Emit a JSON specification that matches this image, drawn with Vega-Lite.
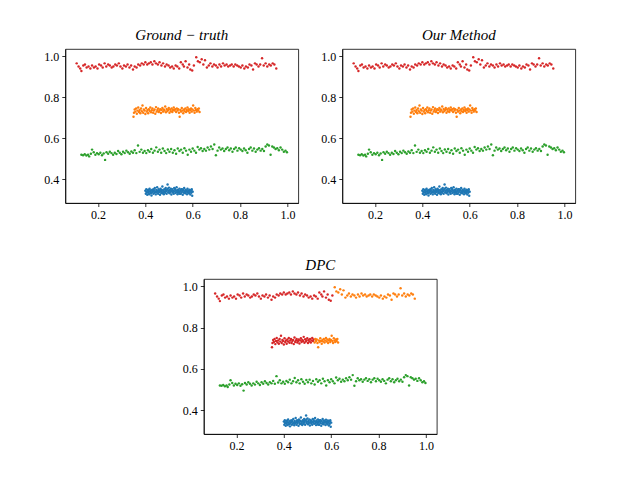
{
"$schema": "https://vega.github.io/schema/vega-lite/v6.json",
"padding": {"left": 43, "top": 27, "right": 5, "bottom": 5},
"background": "white",
"config": {
  "view": {"stroke": "black", "strokeWidth": 0.8},
  "axis": {"grid": false, "domainColor": "black", "domainWidth": 0.8, "tickColor": "black", "tickWidth": 0.8, "tickSize": 3.5, "labelColor": "black", "labelFont": "Liberation Serif", "labelFontSize": 12, "labelPadding": 3, "title": null},
  "title": {"font": "Liberation Serif", "fontStyle": "italic", "fontWeight": "normal", "fontSize": 15, "color": "black", "offset": 6}
},
"datasets": {"pts": [
{"x":0.110,"y":0.965,"c":"r","d":"r"},{"x":0.118,"y":0.950,"c":"r","d":"r"},{"x":0.125,"y":0.940,"c":"r","d":"r"},{"x":0.130,"y":0.928,"c":"r","d":"r"},{"x":0.138,"y":0.955,"c":"r","d":"r"},{"x":0.145,"y":0.960,"c":"r","d":"r"},{"x":0.152,"y":0.945,"c":"r","d":"r"},{"x":0.160,"y":0.950,"c":"r","d":"r"},{"x":0.168,"y":0.940,"c":"r","d":"r"},{"x":0.175,"y":0.955,"c":"r","d":"r"},{"x":0.183,"y":0.945,"c":"r","d":"r"},{"x":0.190,"y":0.950,"c":"r","d":"r"},{"x":0.198,"y":0.940,"c":"r","d":"r"},{"x":0.205,"y":0.960,"c":"r","d":"r"},{"x":0.213,"y":0.955,"c":"r","d":"r"},{"x":0.220,"y":0.945,"c":"r","d":"r"},{"x":0.228,"y":0.965,"c":"r","d":"r"},{"x":0.235,"y":0.950,"c":"r","d":"r"},{"x":0.243,"y":0.960,"c":"r","d":"r"},{"x":0.250,"y":0.955,"c":"r","d":"r"},{"x":0.258,"y":0.945,"c":"r","d":"r"},{"x":0.265,"y":0.950,"c":"r","d":"r"},{"x":0.273,"y":0.960,"c":"r","d":"r"},{"x":0.280,"y":0.955,"c":"r","d":"r"},{"x":0.288,"y":0.965,"c":"r","d":"r"},{"x":0.295,"y":0.950,"c":"r","d":"r"},{"x":0.303,"y":0.940,"c":"r","d":"r"},{"x":0.310,"y":0.955,"c":"r","d":"r"},{"x":0.318,"y":0.950,"c":"r","d":"r"},{"x":0.325,"y":0.960,"c":"r","d":"r"},{"x":0.333,"y":0.945,"c":"r","d":"r"},{"x":0.340,"y":0.955,"c":"r","d":"r"},{"x":0.348,"y":0.935,"c":"r","d":"r"},{"x":0.355,"y":0.950,"c":"r","d":"r"},{"x":0.363,"y":0.945,"c":"r","d":"r"},{"x":0.370,"y":0.960,"c":"r","d":"r"},{"x":0.378,"y":0.955,"c":"r","d":"r"},{"x":0.385,"y":0.965,"c":"r","d":"r"},{"x":0.393,"y":0.960,"c":"r","d":"r"},{"x":0.400,"y":0.970,"c":"r","d":"r"},{"x":0.408,"y":0.960,"c":"r","d":"r"},{"x":0.415,"y":0.965,"c":"r","d":"r"},{"x":0.423,"y":0.970,"c":"r","d":"r"},{"x":0.430,"y":0.960,"c":"r","d":"r"},{"x":0.438,"y":0.975,"c":"r","d":"r"},{"x":0.445,"y":0.965,"c":"r","d":"r"},{"x":0.453,"y":0.960,"c":"r","d":"r"},{"x":0.460,"y":0.970,"c":"r","d":"r"},{"x":0.468,"y":0.955,"c":"r","d":"r"},{"x":0.475,"y":0.965,"c":"r","d":"r"},{"x":0.483,"y":0.950,"c":"r","d":"r"},{"x":0.490,"y":0.960,"c":"r","d":"r"},{"x":0.498,"y":0.955,"c":"r","d":"r"},{"x":0.505,"y":0.945,"c":"r","d":"r"},{"x":0.513,"y":0.950,"c":"r","d":"r"},{"x":0.520,"y":0.940,"c":"r","d":"r"},{"x":0.528,"y":0.955,"c":"r","d":"r"},{"x":0.535,"y":0.950,"c":"r","d":"r"},{"x":0.543,"y":0.940,"c":"r","d":"r"},{"x":0.550,"y":0.970,"c":"r","d":"r"},{"x":0.558,"y":0.960,"c":"r","d":"r"},{"x":0.563,"y":0.950,"c":"r","d":"r"},{"x":0.570,"y":0.975,"c":"r","d":"r"},{"x":0.578,"y":0.945,"c":"r","d":"r"},{"x":0.585,"y":0.960,"c":"r","d":"r"},{"x":0.590,"y":0.935,"c":"r","d":"r"},{"x":0.598,"y":0.930,"c":"r","d":"r"},{"x":0.605,"y":0.955,"c":"r","d":"r"},
{"x":0.615,"y":0.995,"c":"r","d":"o"},{"x":0.622,"y":0.975,"c":"r","d":"o"},{"x":0.630,"y":0.970,"c":"r","d":"o"},{"x":0.638,"y":0.985,"c":"r","d":"o"},{"x":0.645,"y":0.960,"c":"r","d":"o"},{"x":0.652,"y":0.980,"c":"r","d":"o"},{"x":0.660,"y":0.945,"c":"r","d":"o"},{"x":0.668,"y":0.955,"c":"r","d":"o"},{"x":0.675,"y":0.965,"c":"r","d":"o"},{"x":0.683,"y":0.950,"c":"r","d":"o"},{"x":0.690,"y":0.960,"c":"r","d":"o"},{"x":0.698,"y":0.955,"c":"r","d":"o"},{"x":0.705,"y":0.945,"c":"r","d":"o"},{"x":0.713,"y":0.960,"c":"r","d":"o"},{"x":0.720,"y":0.950,"c":"r","d":"o"},{"x":0.728,"y":0.965,"c":"r","d":"o"},{"x":0.735,"y":0.955,"c":"r","d":"o"},{"x":0.743,"y":0.960,"c":"r","d":"o"},{"x":0.750,"y":0.950,"c":"r","d":"o"},{"x":0.758,"y":0.955,"c":"r","d":"o"},{"x":0.765,"y":0.960,"c":"r","d":"o"},{"x":0.773,"y":0.950,"c":"r","d":"o"},{"x":0.780,"y":0.960,"c":"r","d":"o"},{"x":0.788,"y":0.955,"c":"r","d":"o"},{"x":0.795,"y":0.950,"c":"r","d":"o"},{"x":0.803,"y":0.945,"c":"r","d":"o"},{"x":0.810,"y":0.955,"c":"r","d":"o"},{"x":0.818,"y":0.940,"c":"r","d":"o"},{"x":0.825,"y":0.950,"c":"r","d":"o"},{"x":0.833,"y":0.945,"c":"r","d":"o"},{"x":0.840,"y":0.960,"c":"r","d":"o"},{"x":0.848,"y":0.955,"c":"r","d":"o"},{"x":0.855,"y":0.935,"c":"r","d":"o"},{"x":0.863,"y":0.965,"c":"r","d":"o"},{"x":0.870,"y":0.960,"c":"r","d":"o"},{"x":0.878,"y":0.950,"c":"r","d":"o"},{"x":0.885,"y":0.960,"c":"r","d":"o"},{"x":0.893,"y":0.990,"c":"r","d":"o"},{"x":0.900,"y":0.955,"c":"r","d":"o"},{"x":0.908,"y":0.965,"c":"r","d":"o"},{"x":0.915,"y":0.950,"c":"r","d":"o"},{"x":0.923,"y":0.960,"c":"r","d":"o"},{"x":0.930,"y":0.955,"c":"r","d":"o"},{"x":0.938,"y":0.965,"c":"r","d":"o"},{"x":0.945,"y":0.960,"c":"r","d":"o"},{"x":0.953,"y":0.940,"c":"r","d":"o"},
{"x":0.350,"y":0.705,"c":"o","d":"r"},{"x":0.352,"y":0.725,"c":"o","d":"r"},{"x":0.355,"y":0.740,"c":"o","d":"r"},{"x":0.358,"y":0.730,"c":"o","d":"r"},{"x":0.361,"y":0.745,"c":"o","d":"r"},{"x":0.364,"y":0.720,"c":"o","d":"r"},{"x":0.367,"y":0.735,"c":"o","d":"r"},{"x":0.370,"y":0.750,"c":"o","d":"r"},{"x":0.373,"y":0.728,"c":"o","d":"r"},{"x":0.376,"y":0.738,"c":"o","d":"r"},{"x":0.379,"y":0.722,"c":"o","d":"r"},{"x":0.382,"y":0.745,"c":"o","d":"r"},{"x":0.385,"y":0.732,"c":"o","d":"r"},{"x":0.388,"y":0.760,"c":"o","d":"r"},{"x":0.391,"y":0.725,"c":"o","d":"r"},{"x":0.394,"y":0.740,"c":"o","d":"r"},{"x":0.397,"y":0.735,"c":"o","d":"r"},{"x":0.400,"y":0.718,"c":"o","d":"r"},{"x":0.403,"y":0.748,"c":"o","d":"r"},{"x":0.406,"y":0.730,"c":"o","d":"r"},{"x":0.409,"y":0.738,"c":"o","d":"r"},{"x":0.412,"y":0.722,"c":"o","d":"r"},{"x":0.415,"y":0.742,"c":"o","d":"r"},{"x":0.418,"y":0.733,"c":"o","d":"r"},{"x":0.421,"y":0.750,"c":"o","d":"r"},{"x":0.424,"y":0.727,"c":"o","d":"r"},{"x":0.427,"y":0.737,"c":"o","d":"r"},{"x":0.430,"y":0.745,"c":"o","d":"r"},{"x":0.433,"y":0.725,"c":"o","d":"r"},{"x":0.436,"y":0.735,"c":"o","d":"r"},{"x":0.439,"y":0.740,"c":"o","d":"r"},{"x":0.442,"y":0.720,"c":"o","d":"r"},{"x":0.445,"y":0.752,"c":"o","d":"r"},{"x":0.448,"y":0.730,"c":"o","d":"r"},{"x":0.451,"y":0.738,"c":"o","d":"r"},{"x":0.454,"y":0.745,"c":"o","d":"r"},{"x":0.457,"y":0.728,"c":"o","d":"r"},{"x":0.460,"y":0.735,"c":"o","d":"r"},{"x":0.463,"y":0.742,"c":"o","d":"r"},{"x":0.466,"y":0.723,"c":"o","d":"r"},{"x":0.469,"y":0.738,"c":"o","d":"r"},{"x":0.472,"y":0.748,"c":"o","d":"r"},{"x":0.475,"y":0.730,"c":"o","d":"r"},{"x":0.478,"y":0.740,"c":"o","d":"r"},{"x":0.481,"y":0.735,"c":"o","d":"r"},{"x":0.484,"y":0.755,"c":"o","d":"r"},{"x":0.487,"y":0.727,"c":"o","d":"r"},{"x":0.490,"y":0.743,"c":"o","d":"r"},{"x":0.493,"y":0.733,"c":"o","d":"r"},{"x":0.496,"y":0.738,"c":"o","d":"r"},{"x":0.499,"y":0.748,"c":"o","d":"r"},{"x":0.502,"y":0.725,"c":"o","d":"r"},{"x":0.505,"y":0.740,"c":"o","d":"r"},{"x":0.508,"y":0.732,"c":"o","d":"r"},{"x":0.511,"y":0.745,"c":"o","d":"r"},{"x":0.514,"y":0.728,"c":"o","d":"r"},{"x":0.517,"y":0.738,"c":"o","d":"r"},{"x":0.520,"y":0.750,"c":"o","d":"r"},{"x":0.523,"y":0.735,"c":"o","d":"r"},{"x":0.526,"y":0.742,"c":"o","d":"r"},
{"x":0.530,"y":0.728,"c":"o","d":"o"},{"x":0.533,"y":0.745,"c":"o","d":"o"},{"x":0.536,"y":0.735,"c":"o","d":"o"},{"x":0.539,"y":0.742,"c":"o","d":"o"},{"x":0.542,"y":0.725,"c":"o","d":"o"},{"x":0.545,"y":0.705,"c":"o","d":"o"},{"x":0.548,"y":0.738,"c":"o","d":"o"},{"x":0.551,"y":0.730,"c":"o","d":"o"},{"x":0.554,"y":0.748,"c":"o","d":"o"},{"x":0.557,"y":0.735,"c":"o","d":"o"},{"x":0.560,"y":0.722,"c":"o","d":"o"},{"x":0.563,"y":0.740,"c":"o","d":"o"},{"x":0.566,"y":0.732,"c":"o","d":"o"},{"x":0.569,"y":0.745,"c":"o","d":"o"},{"x":0.572,"y":0.728,"c":"o","d":"o"},{"x":0.575,"y":0.738,"c":"o","d":"o"},{"x":0.578,"y":0.750,"c":"o","d":"o"},{"x":0.581,"y":0.733,"c":"o","d":"o"},{"x":0.584,"y":0.742,"c":"o","d":"o"},{"x":0.587,"y":0.725,"c":"o","d":"o"},{"x":0.590,"y":0.737,"c":"o","d":"o"},{"x":0.593,"y":0.745,"c":"o","d":"o"},{"x":0.596,"y":0.730,"c":"o","d":"o"},{"x":0.599,"y":0.740,"c":"o","d":"o"},{"x":0.602,"y":0.760,"c":"o","d":"o"},{"x":0.605,"y":0.735,"c":"o","d":"o"},{"x":0.608,"y":0.725,"c":"o","d":"o"},{"x":0.611,"y":0.748,"c":"o","d":"o"},{"x":0.614,"y":0.738,"c":"o","d":"o"},{"x":0.617,"y":0.730,"c":"o","d":"o"},{"x":0.620,"y":0.742,"c":"o","d":"o"},{"x":0.623,"y":0.735,"c":"o","d":"o"},{"x":0.626,"y":0.745,"c":"o","d":"o"},{"x":0.629,"y":0.728,"c":"o","d":"o"},
{"x":0.130,"y":0.520,"c":"g","d":"g"},{"x":0.137,"y":0.518,"c":"g","d":"g"},{"x":0.144,"y":0.522,"c":"g","d":"g"},{"x":0.151,"y":0.516,"c":"g","d":"g"},{"x":0.158,"y":0.520,"c":"g","d":"g"},{"x":0.163,"y":0.512,"c":"g","d":"g"},{"x":0.170,"y":0.525,"c":"g","d":"g"},{"x":0.175,"y":0.545,"c":"g","d":"g"},{"x":0.182,"y":0.532,"c":"g","d":"g"},{"x":0.189,"y":0.520,"c":"g","d":"g"},{"x":0.196,"y":0.528,"c":"g","d":"g"},{"x":0.203,"y":0.522,"c":"g","d":"g"},{"x":0.210,"y":0.530,"c":"g","d":"g"},{"x":0.217,"y":0.518,"c":"g","d":"g"},{"x":0.224,"y":0.526,"c":"g","d":"g"},{"x":0.230,"y":0.495,"c":"g","d":"g"},{"x":0.236,"y":0.532,"c":"g","d":"g"},{"x":0.243,"y":0.525,"c":"g","d":"g"},{"x":0.250,"y":0.535,"c":"g","d":"g"},{"x":0.257,"y":0.528,"c":"g","d":"g"},{"x":0.264,"y":0.520,"c":"g","d":"g"},{"x":0.271,"y":0.530,"c":"g","d":"g"},{"x":0.278,"y":0.524,"c":"g","d":"g"},{"x":0.285,"y":0.538,"c":"g","d":"g"},{"x":0.292,"y":0.530,"c":"g","d":"g"},{"x":0.299,"y":0.522,"c":"g","d":"g"},{"x":0.306,"y":0.535,"c":"g","d":"g"},{"x":0.313,"y":0.528,"c":"g","d":"g"},{"x":0.320,"y":0.540,"c":"g","d":"g"},{"x":0.327,"y":0.532,"c":"g","d":"g"},{"x":0.334,"y":0.525,"c":"g","d":"g"},{"x":0.341,"y":0.536,"c":"g","d":"g"},{"x":0.348,"y":0.530,"c":"g","d":"g"},{"x":0.355,"y":0.542,"c":"g","d":"g"},{"x":0.362,"y":0.528,"c":"g","d":"g"},{"x":0.369,"y":0.565,"c":"g","d":"g"},{"x":0.376,"y":0.534,"c":"g","d":"g"},{"x":0.383,"y":0.545,"c":"g","d":"g"},{"x":0.390,"y":0.530,"c":"g","d":"g"},{"x":0.397,"y":0.538,"c":"g","d":"g"},{"x":0.404,"y":0.528,"c":"g","d":"g"},{"x":0.411,"y":0.542,"c":"g","d":"g"},{"x":0.418,"y":0.535,"c":"g","d":"g"},{"x":0.425,"y":0.548,"c":"g","d":"g"},{"x":0.432,"y":0.530,"c":"g","d":"g"},{"x":0.439,"y":0.540,"c":"g","d":"g"},{"x":0.446,"y":0.556,"c":"g","d":"g"},{"x":0.453,"y":0.535,"c":"g","d":"g"},{"x":0.460,"y":0.545,"c":"g","d":"g"},{"x":0.467,"y":0.530,"c":"g","d":"g"},{"x":0.474,"y":0.550,"c":"g","d":"g"},{"x":0.481,"y":0.538,"c":"g","d":"g"},{"x":0.488,"y":0.528,"c":"g","d":"g"},{"x":0.495,"y":0.546,"c":"g","d":"g"},{"x":0.502,"y":0.535,"c":"g","d":"g"},{"x":0.509,"y":0.548,"c":"g","d":"g"},{"x":0.516,"y":0.530,"c":"g","d":"g"},{"x":0.523,"y":0.542,"c":"g","d":"g"},{"x":0.530,"y":0.525,"c":"g","d":"g"},{"x":0.537,"y":0.550,"c":"g","d":"g"},{"x":0.544,"y":0.538,"c":"g","d":"g"},{"x":0.551,"y":0.545,"c":"g","d":"g"},{"x":0.558,"y":0.530,"c":"g","d":"g"},{"x":0.565,"y":0.552,"c":"g","d":"g"},{"x":0.572,"y":0.540,"c":"g","d":"g"},{"x":0.579,"y":0.520,"c":"g","d":"g"},{"x":0.586,"y":0.545,"c":"g","d":"g"},{"x":0.593,"y":0.535,"c":"g","d":"g"},{"x":0.600,"y":0.550,"c":"g","d":"g"},{"x":0.607,"y":0.540,"c":"g","d":"g"},{"x":0.614,"y":0.530,"c":"g","d":"g"},{"x":0.621,"y":0.558,"c":"g","d":"g"},{"x":0.628,"y":0.545,"c":"g","d":"g"},{"x":0.635,"y":0.552,"c":"g","d":"g"},{"x":0.642,"y":0.538,"c":"g","d":"g"},{"x":0.649,"y":0.548,"c":"g","d":"g"},{"x":0.656,"y":0.540,"c":"g","d":"g"},{"x":0.663,"y":0.555,"c":"g","d":"g"},{"x":0.670,"y":0.545,"c":"g","d":"g"},{"x":0.677,"y":0.560,"c":"g","d":"g"},{"x":0.684,"y":0.548,"c":"g","d":"g"},{"x":0.691,"y":0.570,"c":"g","d":"g"},{"x":0.698,"y":0.518,"c":"g","d":"g"},{"x":0.705,"y":0.540,"c":"g","d":"g"},{"x":0.712,"y":0.555,"c":"g","d":"g"},{"x":0.719,"y":0.545,"c":"g","d":"g"},{"x":0.726,"y":0.550,"c":"g","d":"g"},{"x":0.733,"y":0.538,"c":"g","d":"g"},{"x":0.740,"y":0.548,"c":"g","d":"g"},{"x":0.747,"y":0.555,"c":"g","d":"g"},{"x":0.754,"y":0.542,"c":"g","d":"g"},{"x":0.761,"y":0.550,"c":"g","d":"g"},{"x":0.768,"y":0.535,"c":"g","d":"g"},{"x":0.775,"y":0.548,"c":"g","d":"g"},{"x":0.782,"y":0.555,"c":"g","d":"g"},{"x":0.789,"y":0.540,"c":"g","d":"g"},{"x":0.796,"y":0.552,"c":"g","d":"g"},{"x":0.803,"y":0.545,"c":"g","d":"g"},{"x":0.810,"y":0.538,"c":"g","d":"g"},{"x":0.817,"y":0.550,"c":"g","d":"g"},{"x":0.824,"y":0.542,"c":"g","d":"g"},{"x":0.831,"y":0.530,"c":"g","d":"g"},{"x":0.838,"y":0.548,"c":"g","d":"g"},{"x":0.845,"y":0.555,"c":"g","d":"g"},{"x":0.852,"y":0.540,"c":"g","d":"g"},{"x":0.859,"y":0.550,"c":"g","d":"g"},{"x":0.866,"y":0.535,"c":"g","d":"g"},{"x":0.873,"y":0.545,"c":"g","d":"g"},{"x":0.880,"y":0.552,"c":"g","d":"g"},{"x":0.887,"y":0.540,"c":"g","d":"g"},{"x":0.894,"y":0.548,"c":"g","d":"g"},{"x":0.901,"y":0.538,"c":"g","d":"g"},{"x":0.908,"y":0.560,"c":"g","d":"g"},{"x":0.915,"y":0.570,"c":"g","d":"g"},{"x":0.922,"y":0.565,"c":"g","d":"g"},{"x":0.929,"y":0.520,"c":"g","d":"g"},{"x":0.936,"y":0.560,"c":"g","d":"g"},{"x":0.943,"y":0.555,"c":"g","d":"g"},{"x":0.950,"y":0.548,"c":"g","d":"g"},{"x":0.957,"y":0.552,"c":"g","d":"g"},{"x":0.964,"y":0.542,"c":"g","d":"g"},{"x":0.971,"y":0.555,"c":"g","d":"g"},{"x":0.978,"y":0.545,"c":"g","d":"g"},{"x":0.985,"y":0.535,"c":"g","d":"g"},{"x":0.992,"y":0.540,"c":"g","d":"g"},{"x":0.998,"y":0.532,"c":"g","d":"g"},
{"x":0.400,"y":0.345,"c":"b","d":"b"},{"x":0.402,"y":0.330,"c":"b","d":"b"},{"x":0.404,"y":0.352,"c":"b","d":"b"},{"x":0.406,"y":0.338,"c":"b","d":"b"},{"x":0.408,"y":0.325,"c":"b","d":"b"},{"x":0.410,"y":0.348,"c":"b","d":"b"},{"x":0.412,"y":0.335,"c":"b","d":"b"},{"x":0.414,"y":0.342,"c":"b","d":"b"},{"x":0.416,"y":0.328,"c":"b","d":"b"},{"x":0.418,"y":0.355,"c":"b","d":"b"},{"x":0.420,"y":0.340,"c":"b","d":"b"},{"x":0.422,"y":0.332,"c":"b","d":"b"},{"x":0.424,"y":0.347,"c":"b","d":"b"},{"x":0.426,"y":0.322,"c":"b","d":"b"},{"x":0.428,"y":0.338,"c":"b","d":"b"},{"x":0.430,"y":0.350,"c":"b","d":"b"},{"x":0.432,"y":0.343,"c":"b","d":"b"},{"x":0.434,"y":0.330,"c":"b","d":"b"},{"x":0.436,"y":0.345,"c":"b","d":"b"},{"x":0.438,"y":0.335,"c":"b","d":"b"},{"x":0.440,"y":0.358,"c":"b","d":"b"},{"x":0.442,"y":0.340,"c":"b","d":"b"},{"x":0.444,"y":0.327,"c":"b","d":"b"},{"x":0.446,"y":0.348,"c":"b","d":"b"},{"x":0.448,"y":0.336,"c":"b","d":"b"},{"x":0.450,"y":0.362,"c":"b","d":"b"},{"x":0.452,"y":0.342,"c":"b","d":"b"},{"x":0.454,"y":0.330,"c":"b","d":"b"},{"x":0.456,"y":0.352,"c":"b","d":"b"},{"x":0.458,"y":0.338,"c":"b","d":"b"},{"x":0.460,"y":0.345,"c":"b","d":"b"},{"x":0.462,"y":0.325,"c":"b","d":"b"},{"x":0.464,"y":0.355,"c":"b","d":"b"},{"x":0.466,"y":0.340,"c":"b","d":"b"},{"x":0.468,"y":0.333,"c":"b","d":"b"},{"x":0.470,"y":0.348,"c":"b","d":"b"},{"x":0.472,"y":0.365,"c":"b","d":"b"},{"x":0.474,"y":0.337,"c":"b","d":"b"},{"x":0.476,"y":0.345,"c":"b","d":"b"},{"x":0.478,"y":0.328,"c":"b","d":"b"},{"x":0.480,"y":0.352,"c":"b","d":"b"},{"x":0.482,"y":0.340,"c":"b","d":"b"},{"x":0.484,"y":0.335,"c":"b","d":"b"},{"x":0.486,"y":0.358,"c":"b","d":"b"},{"x":0.488,"y":0.343,"c":"b","d":"b"},{"x":0.490,"y":0.330,"c":"b","d":"b"},{"x":0.492,"y":0.350,"c":"b","d":"b"},{"x":0.494,"y":0.375,"c":"b","d":"b"},{"x":0.496,"y":0.338,"c":"b","d":"b"},{"x":0.498,"y":0.345,"c":"b","d":"b"},{"x":0.500,"y":0.360,"c":"b","d":"b"},{"x":0.502,"y":0.332,"c":"b","d":"b"},{"x":0.504,"y":0.348,"c":"b","d":"b"},{"x":0.506,"y":0.340,"c":"b","d":"b"},{"x":0.508,"y":0.355,"c":"b","d":"b"},{"x":0.510,"y":0.326,"c":"b","d":"b"},{"x":0.512,"y":0.343,"c":"b","d":"b"},{"x":0.514,"y":0.352,"c":"b","d":"b"},{"x":0.516,"y":0.336,"c":"b","d":"b"},{"x":0.518,"y":0.345,"c":"b","d":"b"},{"x":0.520,"y":0.330,"c":"b","d":"b"},{"x":0.522,"y":0.358,"c":"b","d":"b"},{"x":0.524,"y":0.341,"c":"b","d":"b"},{"x":0.526,"y":0.349,"c":"b","d":"b"},{"x":0.528,"y":0.334,"c":"b","d":"b"},{"x":0.530,"y":0.346,"c":"b","d":"b"},{"x":0.532,"y":0.362,"c":"b","d":"b"},{"x":0.534,"y":0.338,"c":"b","d":"b"},{"x":0.536,"y":0.328,"c":"b","d":"b"},{"x":0.538,"y":0.350,"c":"b","d":"b"},{"x":0.540,"y":0.343,"c":"b","d":"b"},{"x":0.542,"y":0.335,"c":"b","d":"b"},{"x":0.544,"y":0.355,"c":"b","d":"b"},{"x":0.546,"y":0.340,"c":"b","d":"b"},{"x":0.548,"y":0.347,"c":"b","d":"b"},{"x":0.550,"y":0.330,"c":"b","d":"b"},{"x":0.552,"y":0.352,"c":"b","d":"b"},{"x":0.554,"y":0.338,"c":"b","d":"b"},{"x":0.556,"y":0.345,"c":"b","d":"b"},{"x":0.558,"y":0.325,"c":"b","d":"b"},{"x":0.560,"y":0.348,"c":"b","d":"b"},{"x":0.562,"y":0.336,"c":"b","d":"b"},{"x":0.564,"y":0.358,"c":"b","d":"b"},{"x":0.566,"y":0.342,"c":"b","d":"b"},{"x":0.568,"y":0.332,"c":"b","d":"b"},{"x":0.570,"y":0.350,"c":"b","d":"b"},{"x":0.572,"y":0.340,"c":"b","d":"b"},{"x":0.574,"y":0.346,"c":"b","d":"b"},{"x":0.576,"y":0.328,"c":"b","d":"b"},{"x":0.578,"y":0.354,"c":"b","d":"b"},{"x":0.580,"y":0.338,"c":"b","d":"b"},{"x":0.582,"y":0.345,"c":"b","d":"b"},{"x":0.584,"y":0.332,"c":"b","d":"b"},{"x":0.586,"y":0.350,"c":"b","d":"b"},{"x":0.588,"y":0.340,"c":"b","d":"b"},{"x":0.590,"y":0.326,"c":"b","d":"b"},{"x":0.592,"y":0.347,"c":"b","d":"b"},{"x":0.594,"y":0.335,"c":"b","d":"b"},{"x":0.596,"y":0.352,"c":"b","d":"b"},{"x":0.598,"y":0.320,"c":"b","d":"b"},{"x":0.600,"y":0.340,"c":"b","d":"b"},
{"x":0.405,"y":0.340,"c":"b","d":"b"},{"x":0.415,"y":0.350,"c":"b","d":"b"},{"x":0.425,"y":0.335,"c":"b","d":"b"},{"x":0.435,"y":0.352,"c":"b","d":"b"},{"x":0.445,"y":0.338,"c":"b","d":"b"},{"x":0.455,"y":0.345,"c":"b","d":"b"},{"x":0.465,"y":0.350,"c":"b","d":"b"},{"x":0.475,"y":0.332,"c":"b","d":"b"},{"x":0.485,"y":0.348,"c":"b","d":"b"},{"x":0.495,"y":0.355,"c":"b","d":"b"},{"x":0.505,"y":0.338,"c":"b","d":"b"},{"x":0.515,"y":0.342,"c":"b","d":"b"},{"x":0.525,"y":0.355,"c":"b","d":"b"},{"x":0.535,"y":0.345,"c":"b","d":"b"},{"x":0.545,"y":0.330,"c":"b","d":"b"},{"x":0.555,"y":0.352,"c":"b","d":"b"},{"x":0.565,"y":0.335,"c":"b","d":"b"},{"x":0.575,"y":0.342,"c":"b","d":"b"},{"x":0.585,"y":0.340,"c":"b","d":"b"},{"x":0.595,"y":0.345,"c":"b","d":"b"}
]},
"data": {"name": "pts"},
"vconcat": [
  {
    "hconcat": [
      {
        "title": "Ground − truth",
        "width": 233, "height": 154,
        "mark": {"type": "circle", "size": 6, "opacity": 1},
        "encoding": {
          "x": {"field": "x", "type": "quantitative", "scale": {"domain": [0.062, 1.046], "nice": false, "zero": false}, "axis": {"values": [0.2, 0.4, 0.6, 0.8, 1.0], "format": ".1f"}},
          "y": {"field": "y", "type": "quantitative", "scale": {"domain": [0.285, 1.035], "nice": false, "zero": false}, "axis": {"values": [0.4, 0.6, 0.8, 1.0], "format": ".1f"}},
          "color": {"field": "c", "type": "nominal", "scale": {"domain": ["b", "o", "g", "r"], "range": ["#1f77b4", "#ff7f0e", "#2ca02c", "#d62728"]}, "legend": null}
        }
      },
      {
        "title": "Our Method",
        "width": 233, "height": 154,
        "mark": {"type": "circle", "size": 6, "opacity": 1},
        "encoding": {
          "x": {"field": "x", "type": "quantitative", "scale": {"domain": [0.062, 1.046], "nice": false, "zero": false}, "axis": {"values": [0.2, 0.4, 0.6, 0.8, 1.0], "format": ".1f"}},
          "y": {"field": "y", "type": "quantitative", "scale": {"domain": [0.285, 1.035], "nice": false, "zero": false}, "axis": {"values": [0.4, 0.6, 0.8, 1.0], "format": ".1f"}},
          "color": {"field": "c", "type": "nominal", "scale": {"domain": ["b", "o", "g", "r"], "range": ["#1f77b4", "#ff7f0e", "#2ca02c", "#d62728"]}, "legend": null}
        }
      }
    ],
    "spacing": 21,
    "resolve": {"scale": {"x": "independent", "y": "independent"}}
  },
  {
    "title": "DPC",
    "width": 233, "height": 155,
    "mark": {"type": "circle", "size": 6, "opacity": 1},
    "encoding": {
      "x": {"field": "x", "type": "quantitative", "scale": {"domain": [0.062, 1.046], "nice": false, "zero": false}, "axis": {"values": [0.2, 0.4, 0.6, 0.8, 1.0], "format": ".1f"}},
      "y": {"field": "y", "type": "quantitative", "scale": {"domain": [0.285, 1.035], "nice": false, "zero": false}, "axis": {"values": [0.4, 0.6, 0.8, 1.0], "format": ".1f"}},
      "color": {"field": "d", "type": "nominal", "scale": {"domain": ["b", "o", "g", "r"], "range": ["#1f77b4", "#ff7f0e", "#2ca02c", "#d62728"]}, "legend": null}
    }
  }
],
"spacing": 36,
"center": true
}
